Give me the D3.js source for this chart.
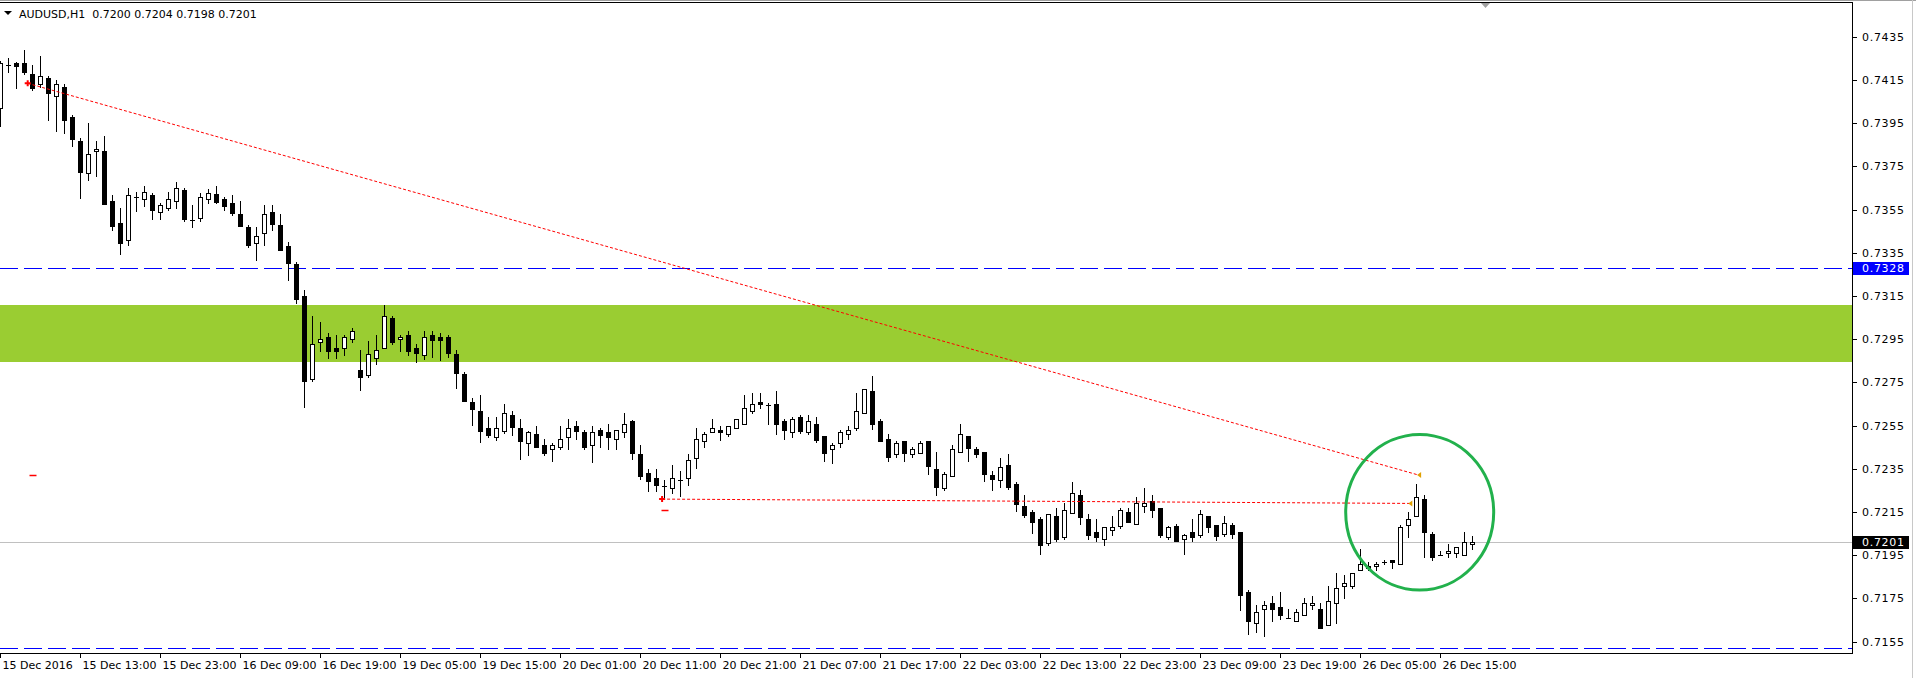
<html>
<head>
  <title>AUDUSD,H1</title>
  <script src="https://d3js.org/d3.v7.min.js"></script>
  <style>
    body { margin: 0; background: #fff; }
    text { font-family: "DejaVu Sans", sans-serif; font-size: 11px; fill: #000; }
    .price text { letter-spacing: 0.7px; }
  </style>
</head>
<body>
  <script>
    // AUDUSD H1 bars, 15 Dec 03:00 .. 26 Dec 19:00
    var opens = [0.74019,0.74220,0.74229,0.74229,0.74178,0.74130,0.74160,0.74078,0.74118,0.73979,
      0.73868,0.73718,0.73820,0.73821,0.73590,0.73488,0.73408,0.73609,0.73598,0.73616,
      0.73538,0.73556,0.73589,0.73641,0.73502,0.73510,0.73598,0.73622,0.73599,0.73581,
      0.73530,0.73470,0.73397,0.73440,0.73538,0.73477,0.73382,0.73298,0.73150,0.72767,
      0.72939,0.72959,0.72908,0.72908,0.72950,0.72807,0.72786,0.72865,0.72908,0.73047,
      0.72950,0.72968,0.72908,0.72879,0.72968,0.72959,0.72959,0.72880,0.72787,0.72658,
      0.72618,0.72538,0.72499,0.72527,0.72598,0.72538,0.72468,0.72510,0.72459,0.72440,
      0.72450,0.72499,0.72547,0.72519,0.72459,0.72528,0.72521,0.72487,0.72521,0.72572,
      0.72419,0.72331,0.72308,0.72269,0.72260,0.72298,0.72306,0.72399,0.72477,0.72519,
      0.72528,0.72510,0.72538,0.72556,0.72616,0.72660,0.72644,0.72649,0.72570,0.72519,
      0.72589,0.72519,0.72556,0.72501,0.72440,0.72468,0.72510,0.72538,0.72609,0.72709,
      0.72570,0.72487,0.72417,0.72477,0.72417,0.72425,0.72477,0.72348,0.72260,0.72318,
      0.72426,0.72501,0.72440,0.72426,0.72320,0.72297,0.72366,0.72278,0.72176,0.72149,
      0.72116,0.72008,0.72130,0.72036,0.72147,0.72227,0.72116,0.72056,0.72027,0.72068,
      0.72087,0.72149,0.72096,0.72176,0.72200,0.72167,0.72036,0.72087,0.72027,0.72056,
      0.72046,0.72130,0.72089,0.72047,0.72089,0.72056,0.71778,0.71638,0.71699,0.71727,
      0.71709,0.71659,0.71647,0.71675,0.71718,0.71699,0.71629,0.71727,0.71806,0.71806,
      0.71880,0.71899,0.71899,0.71917,0.71926,0.71908,0.72089,0.72130,0.72209,0.72047,
      0.71950,0.71959,0.71959,0.71950,0.72000];
    var highs = [0.74240,0.74251,0.74235,0.74289,0.74220,0.74261,0.74169,0.74150,0.74132,0.73988,
      0.73880,0.73951,0.73868,0.73891,0.73618,0.73558,0.73649,0.73630,0.73659,0.73627,
      0.73579,0.73630,0.73676,0.73650,0.73571,0.73625,0.73645,0.73660,0.73610,0.73618,
      0.73590,0.73479,0.73470,0.73571,0.73571,0.73530,0.73400,0.73308,0.73178,0.73056,
      0.73030,0.72977,0.72968,0.72968,0.73001,0.72900,0.72942,0.72968,0.73109,0.73056,
      0.72968,0.72988,0.72928,0.72988,0.72988,0.72977,0.72970,0.72900,0.72798,0.72678,
      0.72692,0.72590,0.72590,0.72650,0.72618,0.72579,0.72525,0.72547,0.72488,0.72468,
      0.72548,0.72579,0.72570,0.72528,0.72547,0.72538,0.72558,0.72532,0.72609,0.72575,
      0.72459,0.72349,0.72349,0.72298,0.72366,0.72340,0.72419,0.72539,0.72521,0.72581,
      0.72547,0.72550,0.72583,0.72692,0.72701,0.72701,0.72653,0.72710,0.72580,0.72589,
      0.72599,0.72599,0.72589,0.72504,0.72468,0.72528,0.72548,0.72701,0.72720,0.72780,
      0.72579,0.72510,0.72477,0.72480,0.72450,0.72477,0.72480,0.72426,0.72337,0.72459,
      0.72558,0.72504,0.72450,0.72428,0.72339,0.72399,0.72419,0.72288,0.72227,0.72158,
      0.72129,0.72141,0.72167,0.72190,0.72288,0.72250,0.72139,0.72116,0.72081,0.72130,
      0.72167,0.72167,0.72218,0.72260,0.72227,0.72170,0.72087,0.72096,0.72047,0.72116,
      0.72158,0.72133,0.72091,0.72130,0.72098,0.72059,0.71788,0.71718,0.71737,0.71760,
      0.71778,0.71699,0.71699,0.71751,0.71760,0.71727,0.71806,0.71868,0.71859,0.71868,
      0.71979,0.71920,0.71917,0.71926,0.71928,0.72089,0.72149,0.72278,0.72227,0.72056,
      0.71968,0.72001,0.71989,0.72056,0.72040];
    var lows = [0.73937,0.74189,0.74115,0.74176,0.74104,0.74119,0.73965,0.73916,0.73906,0.73845,
      0.73605,0.73689,0.73707,0.73576,0.73456,0.73346,0.73388,0.73545,0.73568,0.73508,
      0.73508,0.73547,0.73556,0.73499,0.73468,0.73499,0.73579,0.73579,0.73548,0.73525,
      0.73476,0.73377,0.73318,0.73386,0.73457,0.73365,0.73226,0.73116,0.72638,0.72758,
      0.72897,0.72865,0.72865,0.72879,0.72939,0.72716,0.72777,0.72837,0.72908,0.72926,
      0.72897,0.72879,0.72846,0.72857,0.72866,0.72855,0.72866,0.72726,0.72666,0.72554,
      0.72476,0.72499,0.72485,0.72518,0.72508,0.72397,0.72416,0.72450,0.72416,0.72388,
      0.72440,0.72440,0.72487,0.72440,0.72380,0.72450,0.72440,0.72440,0.72499,0.72397,
      0.72304,0.72249,0.72249,0.72210,0.72237,0.72226,0.72277,0.72355,0.72450,0.72519,
      0.72485,0.72500,0.72538,0.72556,0.72607,0.72630,0.72556,0.72510,0.72487,0.72499,
      0.72518,0.72510,0.72476,0.72388,0.72379,0.72450,0.72487,0.72528,0.72609,0.72536,
      0.72477,0.72388,0.72406,0.72388,0.72406,0.72425,0.72328,0.72227,0.72251,0.72318,
      0.72426,0.72388,0.72406,0.72295,0.72251,0.72268,0.72258,0.72156,0.72129,0.72055,
      0.71957,0.71999,0.72017,0.72027,0.72147,0.72096,0.72027,0.72017,0.71999,0.72045,
      0.72078,0.72105,0.72096,0.72149,0.72129,0.72036,0.72027,0.72017,0.71957,0.72017,
      0.72036,0.72056,0.72019,0.72038,0.72028,0.71698,0.71587,0.71596,0.71578,0.71647,
      0.71656,0.71659,0.71647,0.71675,0.71699,0.71615,0.71629,0.71638,0.71751,0.71797,
      0.71880,0.71880,0.71880,0.71908,0.71890,0.71908,0.72036,0.72130,0.71940,0.71926,
      0.71950,0.71940,0.71940,0.71950,0.71980];
    var closes = [0.74230,0.74220,0.74217,0.74189,0.74115,0.74169,0.74089,0.74132,0.73965,0.73879,
      0.73726,0.73808,0.73831,0.73578,0.73476,0.73397,0.73616,0.73609,0.73630,0.73547,
      0.73570,0.73598,0.73649,0.73508,0.73502,0.73607,0.73625,0.73587,0.73568,0.73534,
      0.73476,0.73386,0.73426,0.73528,0.73485,0.73365,0.73304,0.73138,0.72758,0.72926,
      0.72950,0.72897,0.72897,0.72959,0.72987,0.72777,0.72880,0.72899,0.73056,0.72939,
      0.72959,0.72897,0.72888,0.72959,0.72948,0.72948,0.72888,0.72795,0.72666,0.72629,
      0.72527,0.72508,0.72538,0.72607,0.72545,0.72477,0.72519,0.72450,0.72425,0.72459,
      0.72487,0.72538,0.72527,0.72450,0.72519,0.72508,0.72499,0.72528,0.72558,0.72425,
      0.72318,0.72295,0.72275,0.72269,0.72308,0.72298,0.72391,0.72487,0.72510,0.72538,
      0.72519,0.72547,0.72580,0.72630,0.72649,0.72649,0.72644,0.72556,0.72528,0.72580,
      0.72527,0.72570,0.72485,0.72425,0.72459,0.72519,0.72528,0.72616,0.72718,0.72556,
      0.72477,0.72406,0.72468,0.72425,0.72440,0.72468,0.72365,0.72268,0.72328,0.72440,
      0.72510,0.72448,0.72417,0.72328,0.72305,0.72357,0.72267,0.72189,0.72138,0.72105,
      0.71999,0.72139,0.72027,0.72158,0.72237,0.72129,0.72045,0.72036,0.72079,0.72079,
      0.72158,0.72105,0.72190,0.72190,0.72158,0.72045,0.72079,0.72017,0.72045,0.72036,
      0.72139,0.72079,0.72038,0.72098,0.72047,0.71768,0.71647,0.71689,0.71718,0.71699,
      0.71675,0.71659,0.71689,0.71727,0.71727,0.71615,0.71737,0.71797,0.71820,0.71866,
      0.71908,0.71890,0.71908,0.71917,0.71917,0.72079,0.72116,0.72218,0.72056,0.71940,
      0.71950,0.71968,0.71987,0.72010,0.72010];

    var priceTicks = [0.7435,0.7415,0.7395,0.7375,0.7355,0.7335,0.7315,0.7295,0.7275,0.7255,0.7235,0.7215,0.7195,0.7175,0.7155];
    var timeTickBars = [0,10,20,30,40,50,60,70,80,90,100,110,120,130,140,150,160,170,180];
    var timeTickLabels = ["15 Dec 2016","15 Dec 13:00","15 Dec 23:00","16 Dec 09:00","16 Dec 19:00",
      "19 Dec 05:00","19 Dec 15:00","20 Dec 01:00","20 Dec 11:00","20 Dec 21:00","21 Dec 07:00",
      "21 Dec 17:00","22 Dec 03:00","22 Dec 13:00","22 Dec 23:00","23 Dec 09:00","23 Dec 19:00",
      "26 Dec 05:00","26 Dec 15:00"];

    // objects on the chart
    var zone = [0.72846, 0.73109];
    var blueLevels = [0.7328, 0.7152];
    var bid = 0.7201;
    var trend1 = [[3.4, 0.74135], [177.2, 0.72322]];
    var trend2 = [[82.7, 0.72210], [176.1, 0.72190]];
    var circle = { bar: 177.4, price: 0.72149, bars: 9.25, pips: 0.0036 };

    var width = 1916, height = 678;
    var plotRight = 1852, plotTop = 3, plotBottom = 653;

    var x = d3.scaleLinear().domain([0, 1]).range([0.5, 8.5]);
    var y = d3.scaleLinear().domain([0.7201, 0.7328]).range([542.3, 268]);
    function sy(p) { return Math.round(y(p)) + 0.5; }

    var svg = d3.select("body").append("svg")
      .attr("width", width).attr("height", height);

    svg.append("defs").append("clipPath").attr("id", "plot")
      .append("rect").attr("x", 0).attr("y", plotTop).attr("width", plotRight).attr("height", plotBottom - plotTop);

    var plot = svg.append("g").attr("clip-path", "url(#plot)");

    // support / resistance zone
    plot.append("rect")
      .attr("x", 0).attr("width", plotRight)
      .attr("y", Math.round(y(zone[1])))
      .attr("height", Math.round(y(zone[0])) - Math.round(y(zone[1])))
      .attr("fill", "#9acd32");

    plot.selectAll(".lvl").data(blueLevels).enter().append("line")
      .attr("x1", 0).attr("x2", plotRight)
      .attr("y1", sy).attr("y2", sy)
      .attr("stroke", "#0000ff").attr("stroke-dasharray", "18,6");

    plot.append("line")
      .attr("x1", 0).attr("x2", plotRight)
      .attr("y1", sy(bid)).attr("y2", sy(bid))
      .attr("stroke", "#c0c0c0");

    // candles
    var bars = d3.range(opens.length).map(function(i){
      return { i: i, o: opens[i], h: highs[i], l: lows[i], c: closes[i] };
    });

    var candles = plot.append("g").selectAll("g").data(bars).enter().append("g");

    candles.append("line")
      .attr("x1", function(d){ return x(d.i); })
      .attr("x2", function(d){ return x(d.i); })
      .attr("y1", function(d){ return sy(d.h) - 0.5; })
      .attr("y2", function(d){ return sy(d.l) + 0.5; })
      .attr("stroke", "#000");

    candles.each(function(d){
      var g = d3.select(this);
      var top = sy(Math.max(d.o, d.c)), bot = sy(Math.min(d.o, d.c));
      if (bot - top < 1) {
        g.append("line")
          .attr("x1", x(d.i) - 2.5).attr("x2", x(d.i) + 2.5)
          .attr("y1", top).attr("y2", top)
          .attr("stroke", "#000");
      } else {
        g.append("rect")
          .attr("x", x(d.i) - 2).attr("width", 4)
          .attr("y", top).attr("height", bot - top)
          .attr("fill", d.c < d.o ? "#000" : "#fff")
          .attr("stroke", "#000");
      }
    });

    // trend lines
    [trend1, trend2].forEach(function(t){
      plot.append("line")
        .attr("x1", x(t[0][0])).attr("y1", y(t[0][1]))
        .attr("x2", x(t[1][0])).attr("y2", y(t[1][1]))
        .attr("stroke", "#ff0000").attr("stroke-dasharray", "3,2");
      var ex = x(t[1][0]), ey = y(t[1][1]);
      plot.append("path")
        .attr("d", "M" + (ex - 1) + "," + ey + "L" + (ex + 3) + "," + (ey - 3) + "L" + (ex + 3) + "," + (ey + 3) + "Z")
        .attr("fill", "#e0a000");
      var sx = x(t[0][0]), syy = y(t[0][1]);
      plot.append("path")
        .attr("d", "M" + (sx - 3) + "," + syy + "H" + (sx + 3) + "M" + sx + "," + (syy - 3) + "V" + (syy + 3))
        .attr("stroke", "#ff0000").attr("stroke-width", 2);
    });

    // order marks
    [[4, 0.72322], [83, 0.72159]].forEach(function(m){
      plot.append("line")
        .attr("x1", x(m[0]) - 3).attr("x2", x(m[0]) + 4)
        .attr("y1", sy(m[1])).attr("y2", sy(m[1]))
        .attr("stroke", "#ff0000").attr("stroke-width", 1.5);
    });

    plot.append("ellipse")
      .attr("cx", x(circle.bar)).attr("cy", y(circle.price))
      .attr("rx", x(circle.bar + circle.bars) - x(circle.bar))
      .attr("ry", y(circle.price - circle.pips) - y(circle.price))
      .attr("fill", "none").attr("stroke", "#22b14c").attr("stroke-width", 3);

    // frame
    svg.append("line").attr("x1", 0).attr("x2", width).attr("y1", 0.5).attr("y2", 0.5).attr("stroke", "#a0a0a0");
    svg.append("line").attr("x1", 0).attr("x2", plotRight).attr("y1", plotTop - 0.5).attr("y2", plotTop - 0.5).attr("stroke", "#000");
    svg.append("line").attr("x1", plotRight + 0.5).attr("x2", plotRight + 0.5).attr("y1", plotTop - 1).attr("y2", plotBottom).attr("stroke", "#000");
    svg.append("line").attr("x1", 0).attr("x2", plotRight + 1).attr("y1", plotBottom + 0.5).attr("y2", plotBottom + 0.5).attr("stroke", "#000");
    svg.append("line").attr("x1", width - 3.5).attr("x2", width - 3.5).attr("y1", 0).attr("y2", height).attr("stroke", "#c8c8c8");
    svg.append("path").attr("d", "M1481,3L1490,3L1485.5,8Z").attr("fill", "#a0a0a0");

    // price axis
    var pa = svg.append("g").attr("class", "price");
    pa.selectAll("line").data(priceTicks).enter().append("line")
      .attr("x1", plotRight + 1).attr("x2", plotRight + 5)
      .attr("y1", sy).attr("y2", sy).attr("stroke", "#000");
    pa.selectAll("text").data(priceTicks).enter().append("text")
      .attr("x", plotRight + 10).attr("y", function(d){ return y(d) + 4; })
      .text(function(d){ return d.toFixed(4); });

    function flag(p, bg) {
      pa.append("rect").attr("x", plotRight + 1).attr("y", Math.round(y(p)) - 6)
        .attr("width", 56).attr("height", 13).attr("fill", bg);
      pa.append("text").attr("x", plotRight + 10).attr("y", y(p) + 4)
        .style("fill", "#fff").text(p.toFixed(4));
    }
    flag(blueLevels[0], "#0000ff");
    flag(bid, "#000");

    // time axis
    var ta = svg.append("g");
    ta.selectAll("line").data(timeTickBars).enter().append("line")
      .attr("x1", x).attr("x2", x)
      .attr("y1", plotBottom).attr("y2", plotBottom + 5).attr("stroke", "#000");
    ta.selectAll("text").data(timeTickBars).enter().append("text")
      .attr("x", function(d){ return x(d) + 2; }).attr("y", plotBottom + 16)
      .text(function(d, i){ return timeTickLabels[i]; });

    // header
    svg.append("path").attr("d", "M4,11L12,11L8,15Z").attr("fill", "#000");
    svg.append("text").attr("x", 19).attr("y", 18).text("AUDUSD,H1  0.7200 0.7204 0.7198 0.7201")
      .attr("xml:space", "preserve").style("white-space", "pre");
  </script>
</body>
</html>
